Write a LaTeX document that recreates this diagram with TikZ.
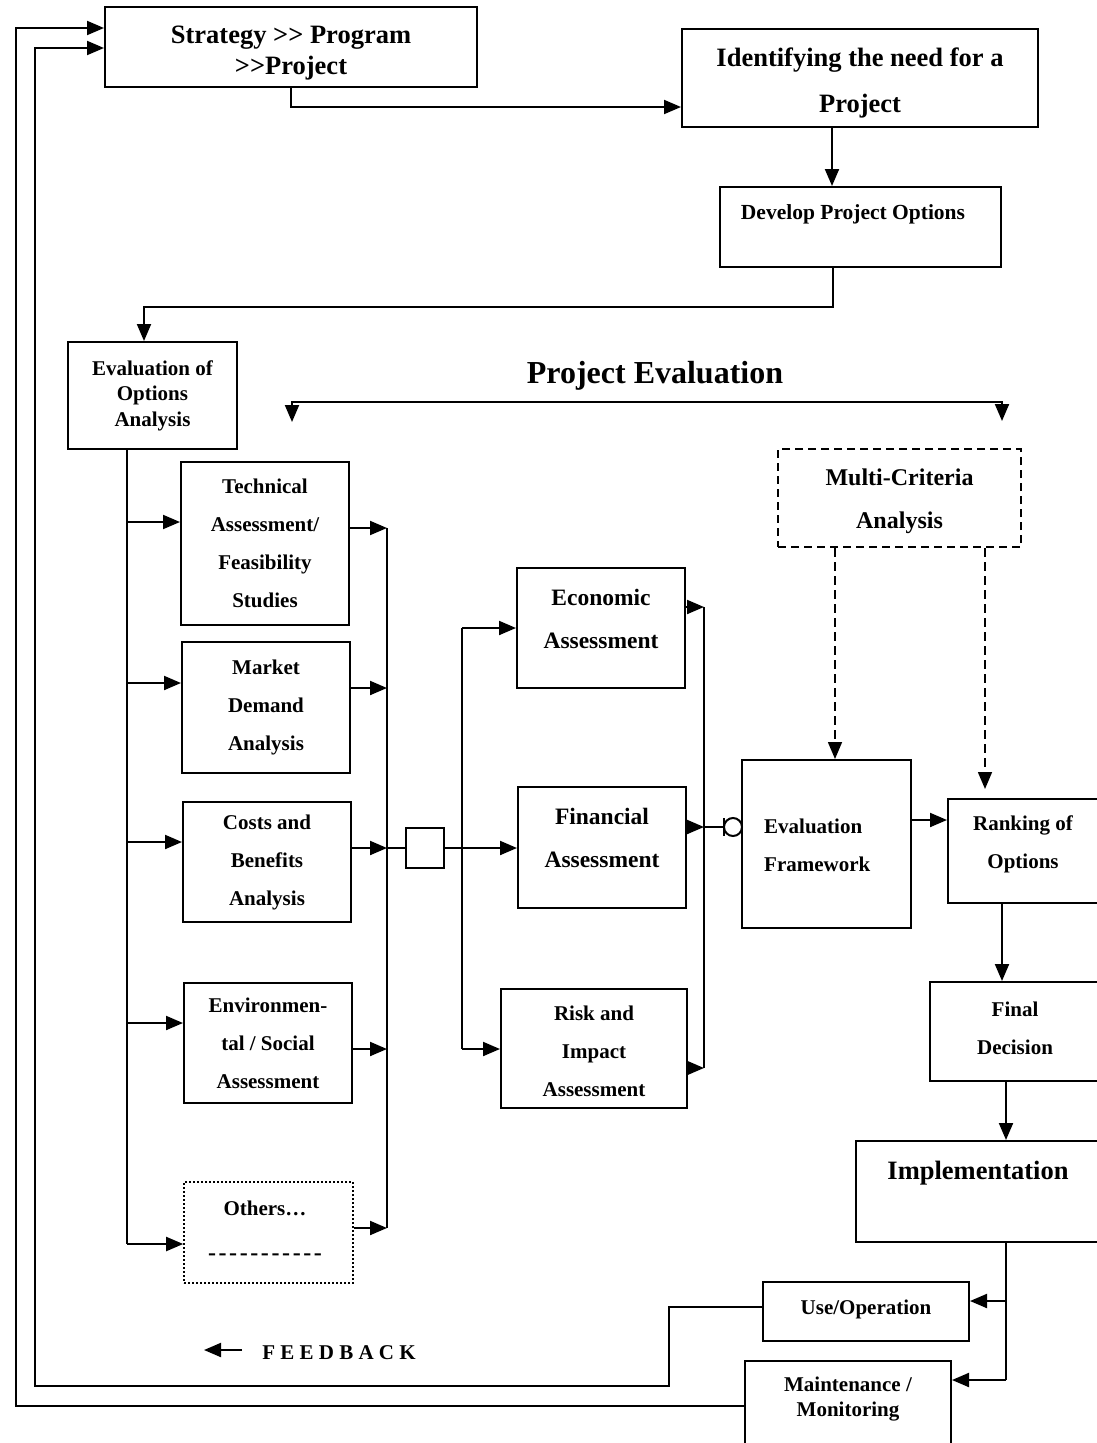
\documentclass[tikz,border=0pt]{standalone}
\usepackage{fontspec}
\setmainfont{Liberation Serif}
\usetikzlibrary{arrows.meta}
\newcommand\myfs[2]{\fontsize{#1}{#2}\selectfont}
\newcommand\mydashes{-\kern2.6pt-\kern2.6pt-\kern2.6pt-\kern2.6pt-\kern2.6pt-\kern2.6pt-\kern2.6pt-\kern2.6pt-\kern2.6pt-\kern2.6pt-}
\begin{document}
\begin{tikzpicture}[x=1pt,y=-1pt,
  box/.style={draw, line width=2pt, inner sep=0pt, font=\bfseries\myfs{21}{38}, align=center},
  lbl/.style={inner sep=0pt, font=\bfseries\myfs{21}{38}, align=center},
  tip/.style={Triangle[length=17pt,width=14pt]},
  arr/.style={line width=2pt, -{Triangle[length=17pt,width=14pt]}},
  ln/.style={line width=2pt}]
\clip (0,0) rectangle (1097,1443);
\fill[white] (0,0) rectangle (1097,1443);

% top boxes
\node[box, minimum width=372, minimum height=80] (strategy) at (291,47) {};
\node[lbl, font=\bfseries\myfs{26.5}{31}] (strategyt) at (291,53) {Strategy {>}{>} Program\\{>}{>}Project};
\node[box, minimum width=356, minimum height=98] (ident) at (860,78) {};
\node[lbl, font=\bfseries\myfs{26.5}{46}] (identt) at (860,83) {Identifying the need for a\\Project};
\node[box, minimum width=281, minimum height=80] (develop) at (860.5,227) {};
\node[lbl, font=\bfseries\myfs{21.5}{38}] (developt) at (853,214) {Develop Project Options};

\node[box, minimum width=169, minimum height=107, font=\bfseries\myfs{21}{25.5}] (evalopt) at (152.5,395.5) {Evaluation of\\Options\\Analysis};

\node[lbl, font=\bfseries\myfs{32}{38}] (title) at (655,376) {Project Evaluation};

% left column
\node[box, minimum width=168, minimum height=163] (tech) at (265,543.5) {Technical\\Assessment/\\Feasibility\\Studies};
\node[box, minimum width=168, minimum height=131] (market) at (266,707.5) {Market\\Demand\\Analysis};
\node[box, minimum width=168, minimum height=120] (costs) at (267,862) {Costs and\\Benefits\\Analysis};
\node[box, minimum width=168, minimum height=120] (env) at (268,1043) {Environmen-\\tal / Social\\Assessment};
\node[box, dotted, line width=1.6pt, minimum width=169, minimum height=101] (others) at (268.5,1232.5) {};
\node[lbl, font=\bfseries\myfs{21}{45}] (otherst) at (265,1231) {Others\ldots\\{\myfs{24}{45}\mydashes}};

\node[box, minimum width=38, minimum height=40] (sq) at (425,848) {};

% middle column
\node[box, minimum width=168, minimum height=120] (economic) at (601,628) {};
\node[lbl, font=\bfseries\myfs{23.5}{43}] (economict) at (601,619) {Economic\\Assessment};
\node[box, minimum width=168, minimum height=121] (financial) at (602,847.5) {};
\node[lbl, font=\bfseries\myfs{23.5}{43}] (financialt) at (602,838) {Financial\\Assessment};
\node[box, minimum width=186, minimum height=119] (risk) at (594,1048.5) {};
\node[lbl] (riskt) at (594,1051) {Risk and\\Impact\\Assessment};

% right side
\node[box, dashed, dash pattern=on 8pt off 5pt, minimum width=243, minimum height=98] (multi) at (899.5,498) {};
\node[lbl, font=\bfseries\myfs{24}{43}] (multit) at (899.5,501) {Multi-Criteria\\Analysis};
\node[box, minimum width=169, minimum height=168] (evalfw) at (826.5,844) {};
\node[lbl, align=left, anchor=west] (evalfwt) at (764,845) {Evaluation\\Framework};
\node[box, minimum width=160, minimum height=104] (ranking) at (1028,851) {};
\node[lbl] (rankingt) at (1023,844) {Ranking of\\Options};
\node[box, minimum width=180, minimum height=99] (final) at (1020,1031.5) {};
\node[lbl] (finalt) at (1015,1028) {Final\\Decision};
\node[box, minimum width=260, minimum height=101] (impl) at (986,1191.5) {};
\node[lbl, font=\bfseries\myfs{26.5}{31}] (implt) at (978,1173) {Implementation};
\node[box, minimum width=206, minimum height=59] (useop) at (866,1311.5) {};
\node[lbl] (useopt) at (866,1309) {Use/Operation};
\node[box, minimum width=206, minimum height=98] (maint) at (848,1410) {};
\node[lbl, font=\bfseries\myfs{21}{25}] (maintt) at (848,1399) {Maintenance /\\Monitoring};

\node[lbl, font=\bfseries\myfs{21}{25}] (fb) at (339,1353) {F E E D B A C K};
\coordinate (fbtail) at (242,1350);
\coordinate (fbtip) at (204,1350);
\draw[arr] (fbtail) -- (fbtip);

% top connectors
\draw[arr] (strategy.south) |- (ident.west |- 0,107);
\draw[arr] (ident.south -| 832,0) -- (develop.north -| 832,0);
\draw[arr] (develop.south -| 833,0) |- (144,307) -- (evalopt.north -| 144,0);

% project evaluation bracket
\coordinate (pel) at (292,422);
\coordinate (per) at (1002,421);
\draw[line width=2pt, {Triangle[length=17pt,width=14pt]}-{Triangle[length=17pt,width=14pt]}] (pel) |- (1002,402) -- (per);

% left trunk
\draw[ln] (evalopt.south -| 127,0) -- (127,1244);
\draw[arr] (127,522) -- (tech.west |- 0,522);
\draw[arr] (127,683) -- (market.west |- 0,683);
\draw[arr] (127,842) -- (costs.west |- 0,842);
\draw[arr] (127,1023) -- (env.west |- 0,1023);
\draw[arr] (127,1244) -- (others.west |- 0,1244);

% right bus of left column
\draw[ln] (387,528) -- (387,1228);
\draw[arr] (tech.east |- 0,528) -- (387,528);
\draw[arr] (market.east |- 0,688) -- (387,688);
\draw[arr] (costs.east |- 0,848) -- (387,848);
\draw[arr] (env.east |- 0,1049) -- (387,1049);
\draw[arr] (others.east |- 0,1228) -- (387,1228);

\draw[ln] (387,848) -- (sq.west);
\draw[arr] (sq.east) -- (financial.west |- sq.east);

% middle bus
\draw[ln] (462,628) -- (462,1049);
\draw[arr] (462,628) -- (economic.west |- 0,628);
\draw[arr] (462,1049) -- (risk.west |- 0,1049);

% right bus of middle column
\draw[ln] (704,607) -- (704,1068);
\draw[arr] (economic.east |- 0,607) -- (704,607);
\draw[arr] (financial.east |- 0,827) -- (704,827);
\draw[arr] (risk.east |- 0,1068) -- (704,1068);

% socket into evaluation framework
\draw[ln] (704,827) -- (724,827);
\draw[ln] (724,818) -- (724,836);
\draw[ln] (733,827) circle (9);

% dashed arrows from multi-criteria
\draw[arr, dashed, dash pattern=on 9pt off 5pt, line width=1.6pt] (multi.south -| 835,0) -- (evalfw.north -| 835,0);
\coordinate (rkin) at (985,789);
\draw[arr, dashed, dash pattern=on 9pt off 5pt, line width=1.6pt] (multi.south -| 985,0) -- (rkin);

% right chain
\draw[arr] (evalfw.east |- 0,820) -- (ranking.west |- 0,820);
\draw[arr] (ranking.south -| 1002,0) -- (final.north -| 1002,0);
\draw[arr] (final.south -| 1006,0) -- (impl.north -| 1006,0);
\draw[ln] (impl.south -| 1006,0) -- (1006,1380);
\draw[arr] (1006,1301) -- (useop.east |- 0,1301);
\draw[arr] (1006,1380) -- (maint.east |- 0,1380);

% feedback loops
\draw[arr] (useop.west |- 0,1307) -| (669,1386) -| (35,48) -- (strategy.west |- 0,48);
\draw[arr] (maint.west |- 0,1406) -| (16,28) -- (strategy.west |- 0,28);
\end{tikzpicture}
\end{document}
